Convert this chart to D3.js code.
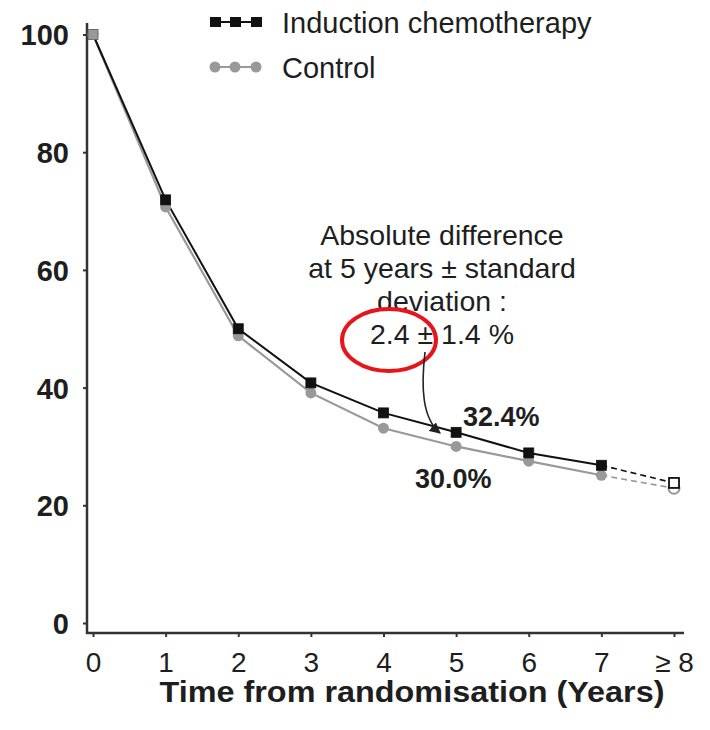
<!DOCTYPE html>
<html>
<head>
<meta charset="utf-8">
<script src="https://cdn.jsdelivr.net/npm/d3@7"></script>
<style>
  html, body { margin: 0; padding: 0; background: #fff; }
  svg { display: block; font-family: "Liberation Sans", Arial, sans-serif; }
</style>
</head>
<body>
<svg id="chart" width="710" height="730"></svg>
<script>
// Survival (%) by year after randomisation
const years = [0, 1, 2, 3, 4, 5, 6, 7, 8];
const xTickLabels = ["0", "1", "2", "3", "4", "5", "6", "7", "\u2265 8"];
const yTicks = [0, 20, 40, 60, 80, 100];
const induction = [100, 71.9, 50.0, 40.8, 35.7, 32.4, 28.9, 26.8, 23.8];
const control = [100, 70.7, 48.8, 39.1, 33.1, 30.0, 27.5, 25.1, 22.9];
const seriesNames = ["Induction chemotherapy", "Control"];
const annotationLines = ["Absolute difference", "at 5 years \u00b1  standard", "deviation :", "2.4 \u00b1 1.4 %"];
const valueLabels = ["32.4%", "30.0%"];

const svg = d3.select("#chart");
const x = d3.scaleLinear().domain([0, 8]).range([93, 674]);
const y = d3.scaleLinear().domain([0, 100]).range([623, 34.5]);

const axisColor = "#333";
const textColor = "#1e1e1e";
const darkColor = "#111";
const grayColor = "#999";

// axis lines
svg.append("line").attr("x1", 87).attr("x2", 87).attr("y1", 23).attr("y2", 634)
  .attr("stroke", axisColor).attr("stroke-width", 2.5);
svg.append("line").attr("x1", 86).attr("x2", 684).attr("y1", 633).attr("y2", 633)
  .attr("stroke", axisColor).attr("stroke-width", 2.5);

// y axis ticks and labels
const yAxis = svg.append("g").attr("transform", "translate(87,0)")
  .call(d3.axisLeft(y).tickValues(yTicks).tickSize(4).tickPadding(14));
yAxis.select(".domain").remove();
yAxis.selectAll(".tick line").attr("stroke", axisColor).attr("stroke-width", 2);
yAxis.selectAll(".tick text")
  .attr("font-family", "Liberation Sans, Arial, sans-serif")
  .attr("font-size", 29).attr("font-weight", "bold").attr("fill", textColor)
  .attr("dy", "0.36em");

// x axis ticks and labels
const xAxis = svg.append("g").attr("transform", "translate(0,633)")
  .call(d3.axisBottom(x).tickValues(years).tickSize(4)
    .tickFormat((d, i) => xTickLabels[i]));
xAxis.select(".domain").remove();
xAxis.selectAll(".tick line").attr("stroke", axisColor).attr("stroke-width", 2);
xAxis.selectAll(".tick text")
  .attr("font-family", "Liberation Sans, Arial, sans-serif")
  .attr("font-size", 28).attr("fill", textColor)
  .attr("y", 39).attr("dy", 0);

svg.append("text").attr("x", 412).attr("y", 702).attr("text-anchor", "middle")
  .attr("font-size", 29).attr("font-weight", "bold").attr("fill", textColor)
  .attr("textLength", 505).attr("lengthAdjust", "spacingAndGlyphs")
  .text("Time from randomisation (Years)");

// lines: solid up to year 7, dashed to the open-ended last interval
const line = d3.line().x((d, i) => x(years[i])).y(d => y(d));
function drawSeries(vals, color, width) {
  svg.append("path").attr("d", line(vals.slice(0, 8))).attr("fill", "none")
    .attr("stroke", color).attr("stroke-width", width);
  svg.append("line")
    .attr("x1", x(years[7])).attr("y1", y(vals[7]))
    .attr("x2", x(years[8])).attr("y2", y(vals[8]))
    .attr("stroke", color).attr("stroke-width", 1.6).attr("stroke-dasharray", "6,4");
}
drawSeries(control, grayColor, 2.2);
drawSeries(induction, darkColor, 2);

// control markers (circles), last one open
svg.append("g").selectAll("circle").data(control).join("circle")
  .attr("cx", (d, i) => x(years[i])).attr("cy", d => y(d)).attr("r", 5.5)
  .attr("fill", (d, i) => i === 8 ? "#fff" : grayColor)
  .attr("stroke", grayColor).attr("stroke-width", (d, i) => i === 8 ? 2 : 0);

// induction markers (squares), last one open
svg.append("g").selectAll("rect").data(induction).join("rect")
  .attr("x", (d, i) => x(years[i]) - 5).attr("y", d => y(d) - 5)
  .attr("width", 10).attr("height", 10)
  .attr("fill", (d, i) => i === 0 ? grayColor : (i === 8 ? "#fff" : darkColor))
  .attr("stroke", (d, i) => i === 0 ? "#555" : darkColor)
  .attr("stroke-width", (d, i) => i === 8 ? 1.8 : 0.8);
svg.append("circle").attr("cx", x(0)).attr("cy", y(control[0]) + 1).attr("r", 4)
  .attr("fill", grayColor);

// legend
const legend = svg.append("g");
const legendY = [22, 67];
legend.append("line").attr("x1", 211).attr("x2", 261).attr("y1", legendY[0]).attr("y2", legendY[0])
  .attr("stroke", darkColor).attr("stroke-width", 2);
legend.selectAll("rect.leg").data([215, 235, 256]).join("rect").attr("class", "leg")
  .attr("x", d => d - 5).attr("y", legendY[0] - 5).attr("width", 11).attr("height", 10)
  .attr("fill", darkColor);
legend.append("line").attr("x1", 211).attr("x2", 261).attr("y1", legendY[1]).attr("y2", legendY[1])
  .attr("stroke", grayColor).attr("stroke-width", 2);
legend.selectAll("circle.leg").data([215, 235, 256]).join("circle").attr("class", "leg")
  .attr("cx", d => d).attr("cy", legendY[1]).attr("r", 5.5).attr("fill", grayColor);
legend.selectAll("text").data(seriesNames).join("text")
  .attr("x", 282).attr("y", (d, i) => legendY[i] + 11)
  .attr("font-size", 29).attr("fill", textColor).text(d => d);

// annotation text block
svg.append("g").selectAll("text").data(annotationLines).join("text")
  .attr("x", 442).attr("y", (d, i) => 245 + i * 33)
  .attr("text-anchor", "middle").attr("font-size", 28.5).attr("fill", textColor)
  .text(d => d);

// highlight ellipse
svg.append("ellipse").attr("cx", 389).attr("cy", 340).attr("rx", 47).attr("ry", 31)
  .attr("fill", "none").attr("stroke", "#e8141c").attr("stroke-width", 4);

// curved arrow pointing to the 5-year gap
svg.append("defs").append("marker").attr("id", "arrowhead")
  .attr("viewBox", "0 0 10 10").attr("refX", 9).attr("refY", 5)
  .attr("markerWidth", 7).attr("markerHeight", 7).attr("orient", "auto")
  .append("path").attr("d", "M0,0 L10,5 L0,10 z").attr("fill", "#222");
svg.append("path").attr("d", "M425,352 C421,387 422,418 440,433")
  .attr("fill", "none").attr("stroke", "#222").attr("stroke-width", 1.6)
  .attr("marker-end", "url(#arrowhead)");

// 5-year value labels
svg.append("text").attr("x", 463).attr("y", y(induction[5]) - 6)
  .attr("font-size", 27).attr("font-weight", "bold").attr("fill", textColor).text(valueLabels[0]);
svg.append("text").attr("x", 415).attr("y", y(control[5]) + 42)
  .attr("font-size", 27).attr("font-weight", "bold").attr("fill", textColor).text(valueLabels[1]);
</script>
</body>
</html>
